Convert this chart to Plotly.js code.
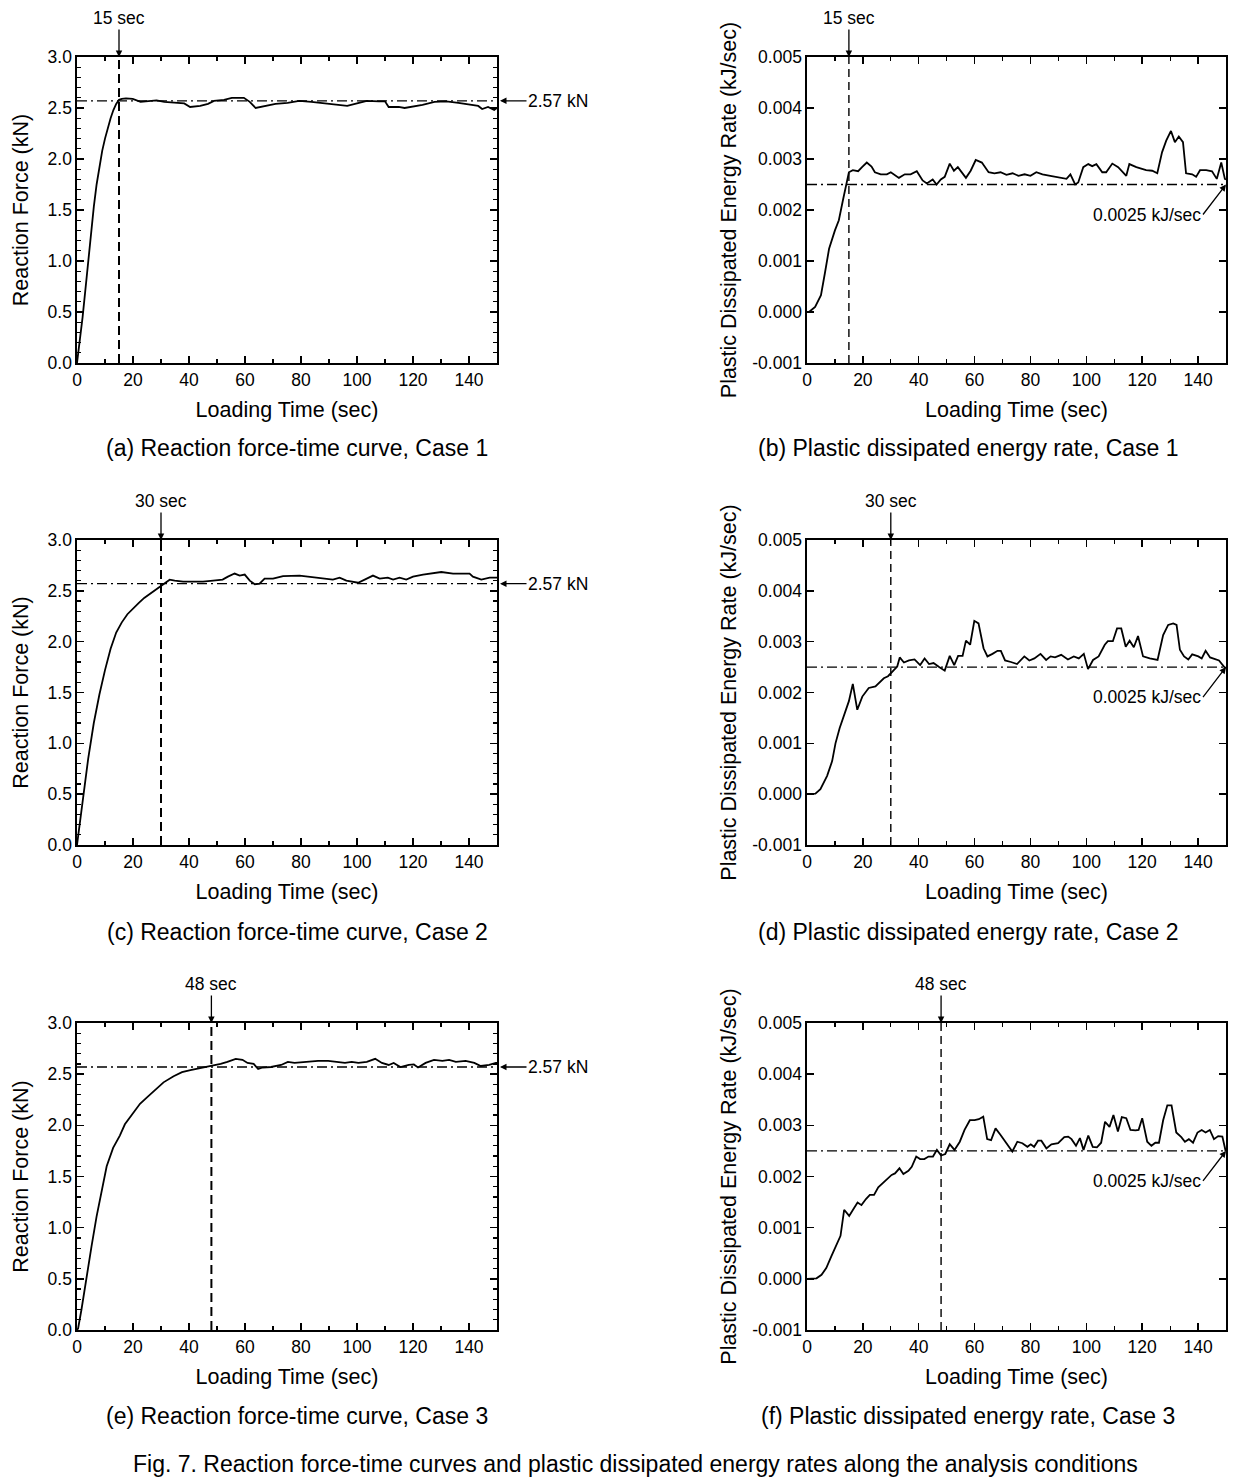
<!DOCTYPE html>
<html><head><meta charset="utf-8">
<script src="https://cdn.plot.ly/plotly-3.0.1.min.js"></script>
<style>html,body{margin:0;padding:0;background:#fff}#chart{width:1245px;height:1481px}</style>
</head><body><div id="chart"></div>
<script>
// ---------- data ----------
const timeA = [0, 1, 2, 3, 4, 5, 6, 7, 8, 9, 10, 11, 12, 13, 14, 15, 16, 17.5, 19.9, 22.7, 25.5, 28.4, 31.2, 34.8, 38.3, 40.4, 44, 46.8, 48.9, 52.5, 55.3, 59.6, 61.7, 63.8, 67.4, 70.9, 75.2, 79.4, 83.7, 87.9, 92.2, 96.5, 100, 103.5, 107.8, 110, 111.3, 114.9, 117, 119.1, 123.4, 127.7, 131.9, 136.2, 140.4, 143.3, 144.7, 146.8, 149, 150];
const forceA = [0, 0.2, 0.45, 0.72, 1.0, 1.28, 1.53, 1.75, 1.93, 2.08, 2.2, 2.31, 2.4, 2.48, 2.54, 2.58, 2.59, 2.595, 2.59, 2.56, 2.57, 2.575, 2.56, 2.55, 2.545, 2.51, 2.52, 2.54, 2.57, 2.58, 2.6, 2.6, 2.56, 2.5, 2.52, 2.54, 2.55, 2.57, 2.56, 2.545, 2.53, 2.52, 2.545, 2.57, 2.565, 2.565, 2.51, 2.51, 2.5, 2.51, 2.53, 2.56, 2.565, 2.55, 2.535, 2.52, 2.49, 2.51, 2.48, 2.5];

const timeB = [0, 0.7, 2.9, 5, 6.4, 7.9, 10, 11.4, 12.9, 14, 15, 16.4, 18.3, 19.7, 21.4, 23.1, 24.3, 26.4, 28.6, 30, 32.9, 35, 37.1, 39.3, 41.4, 42.9, 45, 46.4, 47.9, 49.3, 51.1, 52.6, 54, 56.9, 58.6, 60.4, 62.6, 65, 67.1, 69.3, 71.4, 73.6, 75.7, 77.9, 80, 82.1, 84.3, 87.1, 90, 92.9, 94.3, 96, 97.1, 98.9, 100.7, 102.1, 103.6, 105.7, 107.1, 109.3, 111.4, 114.3, 115.4, 117.9, 121.4, 123.6, 125.4, 127.1, 128.6, 130.3, 131.7, 133.1, 134.6, 135.7, 137.9, 139.3, 140.7, 142.9, 145, 146.7, 148.3, 149.6, 150];
const rateB = [0, 0, 0.0001, 0.00033, 0.00076, 0.00124, 0.0016, 0.0018, 0.0022, 0.0025, 0.00274, 0.00278, 0.00276, 0.00284, 0.00293, 0.00285, 0.00274, 0.0027, 0.0027, 0.00274, 0.00263, 0.0027, 0.0027, 0.00276, 0.00258, 0.00252, 0.0026, 0.0025, 0.0026, 0.00265, 0.00291, 0.00277, 0.00284, 0.00263, 0.00277, 0.00298, 0.00293, 0.00274, 0.00272, 0.00274, 0.00269, 0.00272, 0.00267, 0.0027, 0.00267, 0.00274, 0.0027, 0.00267, 0.00264, 0.00261, 0.0027, 0.0025, 0.00254, 0.00284, 0.0029, 0.00286, 0.0029, 0.00274, 0.00274, 0.00291, 0.00284, 0.00267, 0.0029, 0.00284, 0.00278, 0.00277, 0.00272, 0.00313, 0.00336, 0.00355, 0.00333, 0.00344, 0.00333, 0.00272, 0.0027, 0.00265, 0.00278, 0.00278, 0.00276, 0.00261, 0.00293, 0.00261, 0.0026];

const timeC = [0, 2, 4, 6, 8, 10, 12, 14, 16, 18, 20, 22, 24, 26, 28, 30, 31.5, 33.1, 34.9, 37.9, 41.4, 45, 48.6, 52, 53.9, 56.3, 58.1, 59.9, 61.7, 63.5, 65.2, 67, 70, 73.6, 79.5, 85.5, 91.4, 93.8, 96.2, 100.4, 103.3, 105.7, 108.1, 111, 112.9, 115.2, 117.6, 120, 123.6, 127.1, 130.1, 134.3, 140.2, 141.4, 144.4, 147.4, 150];
const forceC = [0, 0.42, 0.85, 1.2, 1.48, 1.72, 1.93, 2.09, 2.19, 2.27, 2.33, 2.38, 2.43, 2.47, 2.51, 2.555, 2.58, 2.61, 2.6, 2.59, 2.59, 2.59, 2.6, 2.61, 2.64, 2.67, 2.65, 2.66, 2.6, 2.565, 2.57, 2.62, 2.62, 2.645, 2.65, 2.63, 2.61, 2.63, 2.6, 2.58, 2.62, 2.65, 2.62, 2.63, 2.61, 2.63, 2.61, 2.64, 2.66, 2.67, 2.685, 2.67, 2.67, 2.64, 2.61, 2.63, 2.63];

const timeD = [0, 3, 4.8, 7.2, 9, 10.2, 11.7, 13.2, 15, 16.4, 18, 19.8, 22.1, 24.5, 26.3, 27.5, 29, 30.5, 32.3, 33.2, 34.7, 36.5, 38.5, 40.5, 42.1, 43.7, 45.3, 47.3, 49.3, 51.1, 52.7, 54.1, 55.7, 56.9, 58.4, 59.9, 61.4, 63.2, 64.6, 66.4, 68.2, 69.4, 70.9, 73, 75.2, 77.8, 79.6, 81.4, 83.6, 85.6, 87.2, 88.8, 91, 93.4, 95.5, 97.3, 99.1, 100.6, 102.4, 104.4, 106.6, 107.7, 109.5, 111, 112.5, 114.1, 115.5, 117, 118.5, 120.3, 122.7, 125.5, 127.5, 129.3, 131.1, 132.3, 133.5, 135, 136.5, 137.9, 140.1, 141.3, 142.7, 144.3, 146, 147.5, 149.4, 150];
const rateD = [0, 0.00001, 0.0001, 0.00036, 0.00065, 0.001, 0.0013, 0.00153, 0.00183, 0.00217, 0.00166, 0.00192, 0.00209, 0.00212, 0.00222, 0.00228, 0.00232, 0.00241, 0.00251, 0.00269, 0.00259, 0.00263, 0.00265, 0.00254, 0.00267, 0.00256, 0.00258, 0.0025, 0.00243, 0.00272, 0.00254, 0.00272, 0.00272, 0.00302, 0.00294, 0.00341, 0.00336, 0.00287, 0.00271, 0.00276, 0.00282, 0.00282, 0.00263, 0.0026, 0.00256, 0.00271, 0.00263, 0.00267, 0.00276, 0.00264, 0.00271, 0.00269, 0.00274, 0.00265, 0.00271, 0.00267, 0.00276, 0.00246, 0.00264, 0.00271, 0.00294, 0.00301, 0.00301, 0.00326, 0.00326, 0.0029, 0.00302, 0.00289, 0.00311, 0.00271, 0.00267, 0.00264, 0.00313, 0.00333, 0.00336, 0.00333, 0.00284, 0.00271, 0.00265, 0.00275, 0.00271, 0.00267, 0.00282, 0.00269, 0.00265, 0.00263, 0.0025, 0.00248];

const timeE = [0, 0.4, 1.6, 3.4, 5.2, 7, 8.8, 10.6, 12.9, 15.3, 17.1, 20.1, 22.5, 24.9, 27.9, 30.9, 34.5, 37.5, 40.5, 44.1, 46.5, 48.9, 51.3, 53.7, 56.7, 59.1, 60.9, 63.1, 64.7, 66.3, 69.3, 72.9, 75.3, 77.7, 82.5, 86.1, 89.7, 93.3, 95.7, 98.1, 100.5, 103.5, 106.5, 108.9, 111.3, 113.1, 115.5, 118.5, 120.3, 121.8, 124.5, 127.5, 130.5, 132.9, 135.3, 138.8, 141.9, 144.2, 147.2, 149.6, 150];
const forceE = [0, 0.016, 0.2, 0.52, 0.82, 1.11, 1.37, 1.6, 1.78, 1.9, 2.01, 2.12, 2.21, 2.27, 2.35, 2.42, 2.48, 2.52, 2.54, 2.56, 2.57, 2.59, 2.6, 2.62, 2.65, 2.64, 2.61, 2.6, 2.55, 2.565, 2.57, 2.59, 2.62, 2.61, 2.62, 2.63, 2.63, 2.62, 2.61, 2.62, 2.61, 2.62, 2.65, 2.61, 2.59, 2.61, 2.57, 2.59, 2.595, 2.565, 2.61, 2.64, 2.63, 2.64, 2.62, 2.63, 2.61, 2.58, 2.59, 2.61, 2.61];

const timeF = [0, 3.4, 5.2, 6.9, 8.7, 10.6, 12, 13.3, 15.1, 16.8, 18.1, 19.5, 21.1, 22.5, 24, 25.5, 27.3, 28.8, 30.3, 31.5, 33.1, 34.5, 36.3, 37.5, 39.1, 40.5, 42, 43.5, 45.1, 46.5, 48, 49.5, 51.1, 52.8, 54.7, 56.4, 58.3, 60, 61.5, 63.1, 64.5, 65.9, 67.5, 69.3, 71.4, 73.5, 75.3, 77.1, 78.9, 80.1, 81.3, 82.7, 83.9, 85.7, 87.5, 89.9, 92.1, 93.5, 94.7, 96.3, 97.7, 99, 100.7, 102.3, 103.8, 105.3, 106.7, 108.3, 109.7, 111.3, 112.7, 114.3, 115.8, 117.6, 118.7, 120, 121.8, 123.3, 124.7, 126, 127.5, 129, 130.5, 132.2, 134, 135.3, 136.7, 138.2, 139.8, 141.3, 142.7, 144.2, 145.7, 147.2, 148.7, 149.9];
const rateF = [0, 0.00001, 0.00008, 0.00021, 0.00044, 0.00066, 0.00084, 0.00135, 0.00123, 0.00138, 0.00149, 0.00144, 0.00156, 0.00164, 0.00164, 0.00179, 0.00188, 0.00195, 0.00203, 0.00206, 0.00216, 0.00205, 0.00211, 0.00219, 0.00239, 0.00234, 0.00234, 0.00239, 0.00239, 0.00252, 0.00241, 0.00244, 0.00263, 0.00252, 0.00268, 0.00291, 0.0031, 0.0031, 0.00312, 0.00317, 0.00273, 0.00271, 0.00294, 0.00281, 0.00265, 0.00249, 0.00268, 0.00265, 0.00258, 0.00263, 0.00258, 0.0027, 0.0027, 0.00255, 0.00263, 0.00265, 0.00277, 0.00278, 0.00273, 0.0026, 0.00275, 0.00252, 0.0028, 0.00258, 0.00257, 0.00266, 0.00307, 0.00297, 0.0032, 0.00288, 0.00316, 0.00314, 0.00291, 0.0029, 0.00291, 0.00314, 0.00268, 0.0026, 0.00266, 0.00266, 0.0031, 0.00339, 0.00339, 0.00286, 0.00277, 0.00268, 0.00273, 0.00266, 0.00286, 0.00291, 0.00286, 0.00291, 0.00273, 0.00279, 0.00278, 0.00249];

const refTimes = [15, 30, 48];          // vertical dashed markers, per case
const refForce = 2.57;                  // kN, dash-dot level
const refRate = 0.0025;                 // kJ/sec, dash-dot level
const forceLabel = '2.57 kN';
const rateLabel = '0.0025 kJ/sec';

const timeTicks = [0, 20, 40, 60, 80, 100, 120, 140];
const forceTicks = [0, 0.5, 1.0, 1.5, 2.0, 2.5, 3.0];
const forceTickText = ['0.0', '0.5', '1.0', '1.5', '2.0', '2.5', '3.0'];
const rateTicks = [-0.001, 0, 0.001, 0.002, 0.003, 0.004, 0.005];
const rateTickText = ['-0.001', '0.000', '0.001', '0.002', '0.003', '0.004', '0.005'];

const xTitle = 'Loading Time (sec)';
const forceTitle = 'Reaction Force (kN)';
const rateTitle = 'Plastic Dissipated Energy Rate (kJ/sec)';
const captions = [
  '(a) Reaction force-time curve, Case 1',
  '(b) Plastic dissipated energy rate, Case 1',
  '(c) Reaction force-time curve, Case 2',
  '(d) Plastic dissipated energy rate, Case 2',
  '(e) Reaction force-time curve, Case 3',
  '(f) Plastic dissipated energy rate, Case 3'
];
const figTitle = 'Fig. 7. Reaction force-time curves and plastic dissipated energy rates along the analysis conditions';

// ---------- layout geometry ----------
const W = 1245, H = 1481;
const colPx = [[77, 497], [807, 1226]];
const rowPx = [[57, 363], [540, 845], [1023, 1330]];
const captionY = [448, 932, 1416];
const captionX = [297, 968];
const FONT = 'Liberation Sans, Arial, Helvetica, sans-serif';
const CAPFONT = 'Liberation Sans, Arial, sans-serif';

const panels = [
  {t: timeA, v: forceA, kind: 'force', row: 0, col: 0},
  {t: timeB, v: rateB,  kind: 'rate',  row: 0, col: 1},
  {t: timeC, v: forceC, kind: 'force', row: 1, col: 0},
  {t: timeD, v: rateD,  kind: 'rate',  row: 1, col: 1},
  {t: timeE, v: forceE, kind: 'force', row: 2, col: 0},
  {t: timeF, v: rateF,  kind: 'rate',  row: 2, col: 1}
];

const traces = [];
const layout = {
  width: W, height: H,
  margin: {l: 0, r: 0, t: 0, b: 0},
  paper_bgcolor: '#fff', plot_bgcolor: '#fff',
  showlegend: false, hovermode: false,
  font: {family: FONT, color: '#000'},
  annotations: []
};

panels.forEach((p, i) => {
  const n = i + 1;
  const sfx = n === 1 ? '' : String(n);
  const xa = 'x' + sfx, ya = 'y' + sfx;
  const isForce = p.kind === 'force';
  const yr = isForce ? [0, 3] : [-0.001, 0.005];
  const level = isForce ? refForce : refRate;
  const tref = refTimes[p.row];

  traces.push({x: p.t, y: p.v, xaxis: xa, yaxis: ya, mode: 'lines',
    line: {color: '#000', width: 1.8}});
  traces.push({x: [tref, tref], y: yr, xaxis: xa, yaxis: ya, mode: 'lines',
    line: {color: '#000', width: isForce ? 2 : 1.4, dash: isForce ? '9px,5px' : '8px,5px'}});
  traces.push({x: [0, 150], y: [level, level], xaxis: xa, yaxis: ya, mode: 'lines',
    line: {color: '#000', width: 1.3, dash: '10px,4px,2px,4px'}});

  const common = {
    showline: true, linecolor: '#000', linewidth: 1.6, mirror: 'allticks',
    ticks: 'inside', ticklen: 7, tickwidth: 1.4, tickcolor: '#000',
    showgrid: false, zeroline: false, automargin: false,
    tickfont: {family: FONT, size: 17.5, color: '#000'}
  };
  const xd = colPx[p.col], yd = rowPx[p.row];
  layout['xaxis' + sfx] = Object.assign({}, common, {
    domain: [xd[0] / W, xd[1] / W], anchor: ya, range: [0, 150],
    tickvals: timeTicks, ticktext: timeTicks.map(String),
    minor: {ticks: 'inside', ticklen: 4, dtick: 10, tickwidth: 1.2, tickcolor: '#000'},
    title: {text: xTitle, font: {family: FONT, size: 21.5, color: '#000'}, standoff: 13}
  });
  layout['yaxis' + sfx] = Object.assign({}, common, {
    domain: [1 - yd[1] / H, 1 - yd[0] / H], anchor: xa, range: yr,
    tickvals: isForce ? forceTicks : rateTicks,
    ticktext: isForce ? forceTickText : rateTickText,
    title: {text: isForce ? forceTitle : rateTitle, font: {family: FONT, size: 21.5, color: '#000'}, standoff: isForce ? 13 : 10}
  });
  if (isForce) {
    layout['yaxis' + sfx].minor = {ticks: 'inside', ticklen: 4, dtick: 0.1, tickwidth: 1.2, tickcolor: '#000'};
  }

  // time marker arrow above the frame
  layout.annotations.push({
    xref: xa, yref: ya + ' domain', x: tref, y: 1, text: tref + ' sec',
    showarrow: true, ax: 0, ay: -39, arrowhead: 2, arrowsize: 1, arrowwidth: 1.3,
    arrowcolor: '#000', font: {family: FONT, size: 17.5, color: '#000'}
  });
  if (isForce) {
    layout.annotations.push({
      xref: xa + ' domain', yref: ya, x: 1, y: refForce, text: forceLabel,
      showarrow: true, ax: 61, ay: 0, standoff: 3, arrowhead: 2, arrowsize: 1, arrowwidth: 1.3,
      arrowcolor: '#000', font: {family: FONT, size: 17.5, color: '#000'}
    });
  } else {
    layout.annotations.push({
      xref: xa, yref: ya, x: 150, y: refRate, text: rateLabel,
      showarrow: true, ax: -23, ay: 30, xanchor: 'right', yanchor: 'middle',
      arrowhead: 2, arrowsize: 1, arrowwidth: 1.3,
      arrowcolor: '#000', font: {family: FONT, size: 17.5, color: '#000'}
    });
  }
  layout.annotations.push({
    xref: 'paper', yref: 'paper', x: captionX[p.col] / W, y: 1 - captionY[p.row] / H,
    xanchor: 'center', yanchor: 'middle', showarrow: false, text: captions[i],
    font: {family: CAPFONT, size: 23, color: '#000'}
  });
});

layout.annotations.push({
  xref: 'paper', yref: 'paper', x: 635 / W, y: 1 - 1464 / H,
  xanchor: 'center', yanchor: 'middle', showarrow: false, text: figTitle,
  font: {family: CAPFONT, size: 23, color: '#000'}
});

Plotly.newPlot('chart', traces, layout, {staticPlot: true, displayModeBar: false});
</script>
</body></html>
